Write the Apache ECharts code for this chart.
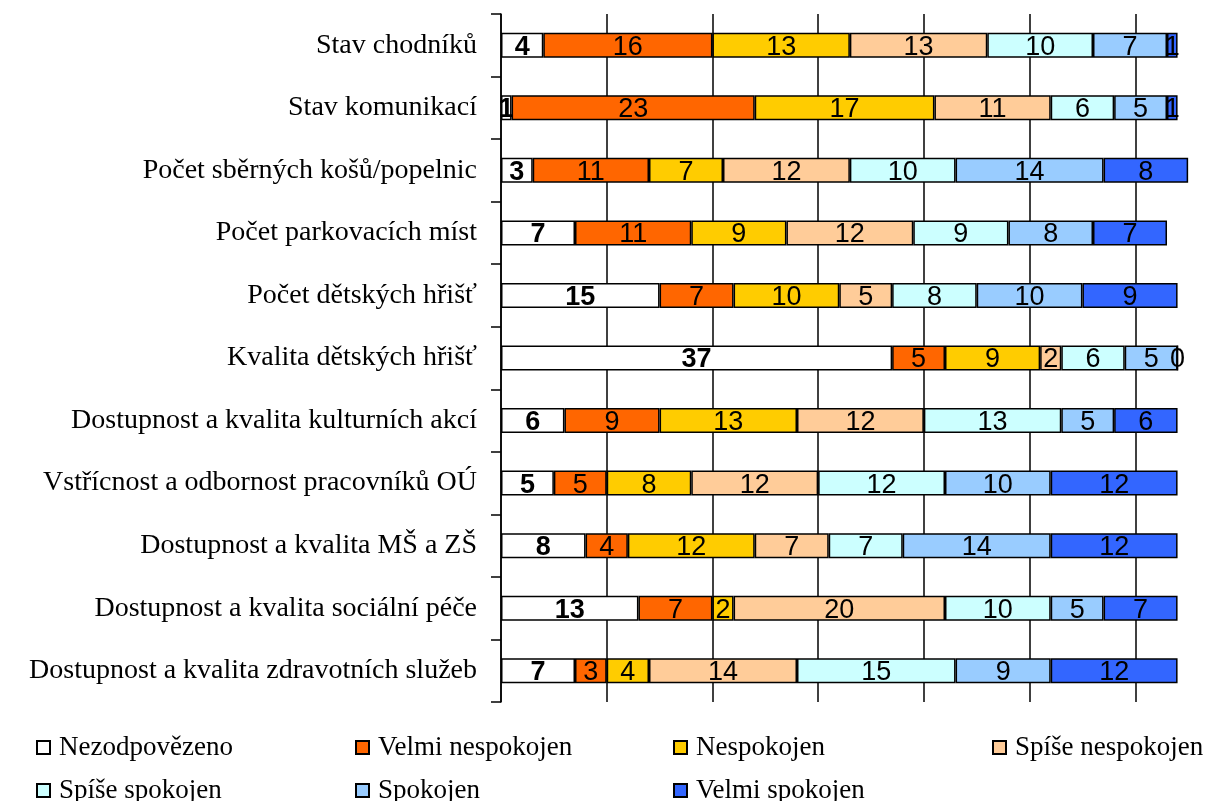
<!DOCTYPE html>
<html>
<head>
<meta charset="utf-8">
<script src="https://cdn.jsdelivr.net/npm/echarts@6/dist/echarts.min.js"></script>
<style>
html,body{margin:0;padding:0;background:#fff;}
#chart{width:1221px;height:801px;}
</style>
</head>
<body>
<div id="chart"></div>
<script>
const categories = [
  'Stav chodníků',
  'Stav komunikací',
  'Počet sběrných košů/popelnic',
  'Počet parkovacích míst',
  'Počet dětských hřišť',
  'Kvalita dětských hřišť',
  'Dostupnost a kvalita kulturních akcí',
  'Vstřícnost a odbornost pracovníků OÚ',
  'Dostupnost a kvalita MŠ a ZŠ',
  'Dostupnost a kvalita sociální péče',
  'Dostupnost a kvalita zdravotních služeb'
];
const seriesNames = ['Nezodpovězeno','Velmi nespokojen','Nespokojen','Spíše nespokojen','Spíše spokojen','Spokojen','Velmi spokojen'];
const nezodpovezeno   = [4, 1, 3, 7, 15, 37, 6, 5, 8, 13, 7];
const velmiNespokojen = [16, 23, 11, 11, 7, 5, 9, 5, 4, 7, 3];
const nespokojen      = [13, 17, 7, 9, 10, 9, 13, 8, 12, 2, 4];
const spiseNespokojen = [13, 11, 12, 12, 5, 2, 12, 12, 7, 20, 14];
const spiseSpokojen   = [10, 6, 10, 9, 8, 6, 13, 12, 7, 10, 15];
const spokojen        = [7, 5, 14, 8, 10, 5, 5, 10, 14, 5, 9];
const velmiSpokojen   = [1, 1, 8, 7, 9, 0, 6, 12, 12, 7, 12];
const xTicks = {min: 0, max: 70, interval: 10};

const seriesData = [nezodpovezeno, velmiNespokojen, nespokojen, spiseNespokojen, spiseSpokojen, spokojen, velmiSpokojen];
const colors = ['#FFFFFF','#FF6600','#FFCC00','#FFCC99','#CCFFFF','#99CCFF','#3366FF'];

const series = seriesData.map((d, i) => ({
  name: seriesNames[i],
  type: 'bar',
  stack: 'total',
  barWidth: '40%',
  data: d,
  itemStyle: {color: colors[i], borderColor: '#000', borderWidth: 1.5},
  label: {
    show: true,
    position: 'inside',
    offset: [0, 2],
    color: '#000',
    fontFamily: 'Liberation Sans, Arial, sans-serif',
    fontSize: 27,
    fontWeight: i === 0 ? 'bold' : 'normal'
  }
}));

const legendPos = [
  {left: 31, top: 729}, {left: 350, top: 729}, {left: 668, top: 729}, {left: 987, top: 729},
  {left: 31, top: 772}, {left: 350, top: 772}, {left: 668, top: 772}
];
const legends = seriesNames.map((n, i) => ({
  data: [n],
  left: legendPos[i].left,
  top: legendPos[i].top,
  icon: 'rect',
  itemWidth: 13,
  itemHeight: 13,
  selectedMode: false,
  textStyle: {
    fontFamily: 'Liberation Serif, Times New Roman, serif',
    fontSize: 27,
    color: '#000',
    padding: [0, 0, 0, 4]
  }
}));

const chart = echarts.init(document.getElementById('chart'), null, {renderer: 'canvas'});
chart.setOption({
  animation: false,
  backgroundColor: '#fff',
  legend: legends,
  grid: {left: 501, top: 14, right: -20, bottom: 99, containLabel: false, outerBoundsMode: 'none'},
  xAxis: {
    type: 'value',
    min: xTicks.min, max: xTicks.max, interval: xTicks.interval,
    axisLine: {show: false},
    axisTick: {show: false},
    axisLabel: {show: false},
    splitLine: {show: true, lineStyle: {color: '#000', width: 1.5}}
  },
  yAxis: {
    type: 'category',
    inverse: true,
    data: categories,
    axisLine: {show: true, lineStyle: {color: '#000', width: 1.5}},
    axisTick: {show: true, length: 10, inside: false, lineStyle: {color: '#000', width: 1.5}},
    axisLabel: {
      margin: 24,
      color: '#000',
      fontFamily: 'Liberation Serif, Times New Roman, serif',
      fontSize: 28
    }
  },
  series: series
});
</script>
</body>
</html>
